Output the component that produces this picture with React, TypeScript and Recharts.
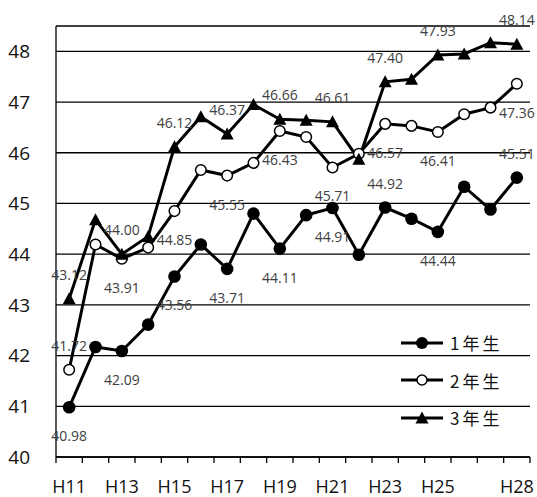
import { ComposedChart, Line, XAxis, YAxis, CartesianGrid, Legend } from 'recharts'

const years = ['H11', 'H12', 'H13', 'H14', 'H15', 'H16', 'H17', 'H18', 'H19', 'H20', 'H21', 'H22', 'H23', 'H24', 'H25', 'H26', 'H27', 'H28']
const xTickLabels = ['H11', 'H13', 'H15', 'H17', 'H19', 'H21', 'H23', 'H25', 'H28']
const yTicks = [40, 41, 42, 43, 44, 45, 46, 47, 48]
const seriesNames = ['1年生', '2年生', '3年生']

const grade1 = [40.98, 42.17, 42.09, 42.61, 43.56, 44.19, 43.71, 44.8, 44.11, 44.77, 44.91, 43.99, 44.92, 44.7, 44.44, 45.33, 44.88, 45.51]
const grade2 = [41.72, 44.19, 43.91, 44.13, 44.85, 45.66, 45.55, 45.8, 46.43, 46.31, 45.71, 45.98, 46.57, 46.53, 46.41, 46.76, 46.89, 47.36]
const grade3 = [43.12, 44.68, 44.0, 44.35, 46.12, 46.71, 46.37, 46.95, 46.66, 46.64, 46.61, 45.87, 47.4, 47.45, 47.93, 47.95, 48.17, 48.14]

const W = 537
const H = 497
const Y_AXIS_W = 56
const M_RIGHT = 7
const BW = (W - Y_AXIS_W - M_RIGHT) / years.length

const data = years.map((year, i) => ({ year, g1: grade1[i], g2: grade2[i], g3: grade3[i] }))

// which points carry a value label, and which of them sit above the point
const labeled = [0, 2, 4, 6, 8, 10, 12, 14, 17]
const aboveIdx: Record<string, number[]> = {
  g1: [12, 17],
  g2: [0],
  g3: labeled,
}

const makeLabelDot = (key: string) => (props: any) => {
  const { cx, cy, index, payload } = props
  if (!labeled.includes(index) || cx == null) return <g key={`${key}-${index}`} />
  const dy = aboveIdx[key].includes(index) ? -24.5 : 28.5
  return (
    <text
      key={`${key}-${index}`}
      x={cx}
      y={cy + dy}
      textAnchor="middle"
      dominantBaseline="central"
      fontSize={14}
      fontFamily="'Open Sans', sans-serif"
      fill="#404040"
    >
      {Number(payload[key]).toFixed(2)}
    </text>
  )
}

const FilledDot = (props: any) => {
  const { cx, cy, index } = props
  return <circle key={index} cx={cx} cy={cy} r={6.3} fill="#000" />
}

const OpenDot = (props: any) => {
  const { cx, cy, index } = props
  return <circle key={index} cx={cx} cy={cy} r={5.3} fill="#fff" stroke="#000" strokeWidth={1.5} />
}

const TriDot = (props: any) => {
  const { cx, cy, index } = props
  return <polygon key={index} points={`${cx},${cy - 6.5} ${cx - 6.5},${cy + 5.5} ${cx + 6.5},${cy + 5.5}`} fill="#000" />
}

function XTick(props: any) {
  const { x, y, payload } = props
  const isLast = payload.index === years.length - 1
  return (
    <g>
      <line x1={x - BW / 2} x2={x - BW / 2} y1={y} y2={y + 6} stroke="#000" strokeWidth={1.3} />
      {isLast && <line x1={x + BW / 2} x2={x + BW / 2} y1={y} y2={y + 6} stroke="#000" strokeWidth={1.3} />}
      {xTickLabels.includes(payload.value) && (
        <text x={x} y={y + 28.5} textAnchor="middle" dominantBaseline="central" fontSize={18} fontFamily="'Open Sans', sans-serif" fill="#111">
          {payload.value}
        </text>
      )}
    </g>
  )
}

function LegendBox() {
  const markers = [
    <circle cx={21} cy={8} r={6} fill="#000" />,
    <circle cx={21} cy={8} r={5} fill="#fff" stroke="#000" strokeWidth={1.5} />,
    <polygon points="21,1.5 14.5,13.5 27.5,13.5" fill="#000" />,
  ]
  return (
    <div style={{ display: 'flex', flexDirection: 'column' }}>
      {seriesNames.map((name, i) => (
        <div key={name} style={{ display: 'flex', alignItems: 'center', height: 37.5 }}>
          <svg width={42} height={16} style={{ display: 'block' }}>
            <line x1={0} x2={42} y1={8} y2={8} stroke="#000" strokeWidth={3} />
            {markers[i]}
          </svg>
          <span
            style={{
              marginLeft: 7,
              fontSize: 17,
              letterSpacing: 3,
              fontFamily: "'Noto Sans CJK JP', sans-serif",
              color: '#111',
              lineHeight: 1,
            }}
          >
            {name}
          </span>
        </div>
      ))}
    </div>
  )
}

export default function App() {
  return (
    <div style={{ width: W, height: H, background: '#fff', position: 'relative' }}>
      <style>{'body{margin:0}'}</style>
      <ComposedChart width={W} height={H} data={data} margin={{ top: 26, right: M_RIGHT, bottom: 0, left: 0 }}>
        <CartesianGrid vertical={false} stroke="#000" strokeWidth={1.3} />
        <XAxis
          dataKey="year"
          interval={0}
          tickSize={0}
          tickMargin={0}
          height={40}
          padding={{ left: BW / 2, right: BW / 2 }}
          axisLine={{ stroke: '#000', strokeWidth: 1.3 }}
          tickLine={false}
          tick={<XTick />}
        />
        <YAxis
          type="number"
          domain={[40, 48.5]}
          ticks={yTicks}
          width={Y_AXIS_W}
          tickSize={0}
          tickMargin={26}
          tickLine={false}
          axisLine={{ stroke: '#000', strokeWidth: 1.3 }}
          tick={{ fontSize: 19, fill: '#111', fontFamily: "'Open Sans', sans-serif" }}
        />
        <Legend
          layout="vertical"
          align="center"
          verticalAlign="middle"
          content={() => <LegendBox />}
          wrapperStyle={{ position: 'absolute', left: 401, top: 324, width: 'auto' }}
        />
        {/* value labels first so the lines pass over them */}
        <Line dataKey="g1" stroke="none" dot={makeLabelDot('g1')} activeDot={false} isAnimationActive={false} legendType="none" />
        <Line dataKey="g2" stroke="none" dot={makeLabelDot('g2')} activeDot={false} isAnimationActive={false} legendType="none" />
        <Line dataKey="g3" stroke="none" dot={makeLabelDot('g3')} activeDot={false} isAnimationActive={false} legendType="none" />
        <Line name={seriesNames[0]} dataKey="g1" stroke="#000" strokeWidth={3} dot={FilledDot} activeDot={false} isAnimationActive={false} />
        <Line name={seriesNames[1]} dataKey="g2" stroke="#000" strokeWidth={3} dot={OpenDot} activeDot={false} isAnimationActive={false} />
        <Line name={seriesNames[2]} dataKey="g3" stroke="#000" strokeWidth={3} dot={TriDot} activeDot={false} isAnimationActive={false} />
      </ComposedChart>
    </div>
  )
}
